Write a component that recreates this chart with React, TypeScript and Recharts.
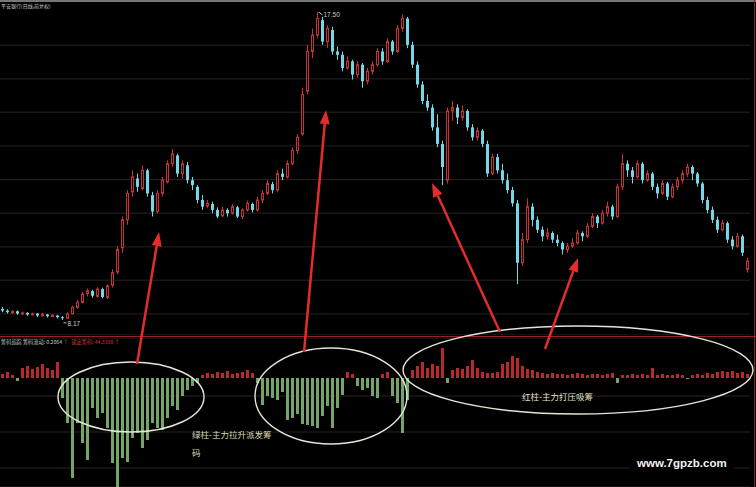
import { ComposedChart, Bar, XAxis, YAxis, CartesianGrid, Cell, ReferenceDot } from "recharts";

// 日K线：[开, 高, 低, 收]
const ohlc: [number, number, number, number][] = [
  [8.50, 8.56, 8.40, 8.45], [8.45, 8.49, 8.36, 8.40], [8.39, 8.47, 8.35, 8.42], [8.43, 8.45, 8.32, 8.36],
  [8.35, 8.42, 8.31, 8.38], [8.38, 8.40, 8.29, 8.33], [8.32, 8.39, 8.30, 8.35], [8.36, 8.37, 8.26, 8.30],
  [8.29, 8.38, 8.27, 8.34], [8.33, 8.35, 8.24, 8.28], [8.27, 8.34, 8.25, 8.31], [8.30, 8.32, 8.21, 8.25],
  [8.25, 8.28, 8.17, 8.22], [8.22, 8.40, 8.20, 8.35], [8.36, 8.60, 8.33, 8.55], [8.55, 8.78, 8.50, 8.70],
  [8.70, 9.02, 8.66, 8.95], [8.96, 9.12, 8.88, 9.05], [9.04, 9.08, 8.84, 8.90], [8.88, 9.16, 8.85, 9.10],
  [9.10, 9.14, 8.82, 8.86], [8.85, 9.25, 8.80, 9.20], [9.22, 9.70, 9.15, 9.60], [9.62, 10.40, 9.55, 10.30],
  [10.35, 11.30, 10.20, 11.20], [11.20, 12.10, 11.05, 12.00], [12.05, 12.70, 11.90, 12.50], [12.45, 12.60, 12.05, 12.20],
  [12.15, 12.85, 12.10, 12.70], [12.70, 12.75, 11.90, 12.00], [11.95, 12.05, 11.30, 11.45], [11.45, 12.10, 11.40, 12.00],
  [12.00, 12.50, 11.90, 12.40], [12.35, 13.00, 12.30, 12.90], [12.90, 13.35, 12.80, 13.20], [13.15, 13.20, 12.50, 12.60],
  [12.60, 13.00, 12.45, 12.90], [12.85, 12.95, 12.30, 12.40], [12.40, 12.50, 12.10, 12.25], [12.20, 12.25, 11.70, 11.80],
  [11.80, 11.95, 11.50, 11.60], [11.62, 11.80, 11.55, 11.70], [11.68, 11.75, 11.40, 11.50], [11.50, 11.58, 11.25, 11.30],
  [11.32, 11.60, 11.28, 11.50], [11.50, 11.55, 11.30, 11.40], [11.40, 11.68, 11.35, 11.60], [11.58, 11.62, 11.25, 11.30],
  [11.30, 11.55, 11.22, 11.50], [11.50, 11.78, 11.45, 11.70], [11.68, 11.72, 11.42, 11.50], [11.50, 11.90, 11.45, 11.80],
  [11.80, 12.10, 11.70, 12.00], [12.00, 12.40, 11.95, 12.30], [12.28, 12.35, 12.00, 12.10], [12.10, 12.70, 12.05, 12.60],
  [12.60, 12.75, 12.40, 12.50], [12.50, 13.00, 12.45, 12.90], [12.90, 13.40, 12.85, 13.30], [13.30, 13.80, 13.20, 13.70],
  [13.80, 15.20, 13.75, 15.00], [15.10, 16.50, 15.00, 16.30], [16.30, 17.00, 16.10, 16.80], [16.80, 17.50, 16.70, 17.30],
  [17.25, 17.35, 16.50, 16.60], [16.60, 17.10, 16.40, 17.00], [16.95, 17.05, 16.20, 16.30], [16.30, 16.45, 16.05, 16.20],
  [16.20, 16.30, 15.70, 15.80], [15.80, 16.15, 15.75, 16.00], [16.00, 16.05, 15.45, 15.60], [15.60, 16.00, 15.50, 15.90],
  [15.90, 15.95, 15.20, 15.40], [15.40, 15.80, 15.30, 15.70], [15.70, 16.00, 15.60, 15.90], [15.90, 16.40, 15.85, 16.30],
  [16.30, 16.40, 15.90, 16.00], [16.00, 16.70, 15.95, 16.60], [16.60, 16.65, 16.20, 16.30], [16.30, 17.10, 16.25, 17.00],
  [17.00, 17.42, 16.90, 17.30], [17.30, 17.35, 16.40, 16.50], [16.50, 16.60, 15.80, 15.90], [15.90, 16.00, 15.20, 15.30],
  [15.30, 15.40, 14.70, 14.80], [14.80, 15.00, 14.50, 14.60], [14.60, 14.70, 13.90, 14.00], [14.00, 14.40, 13.40, 13.50],
  [13.50, 13.60, 12.25, 12.80], [12.40, 14.60, 12.30, 14.50], [14.50, 14.80, 14.20, 14.60], [14.60, 14.70, 14.10, 14.30],
  [14.30, 14.65, 14.20, 14.50], [14.50, 14.55, 13.90, 14.00], [14.00, 14.10, 13.60, 13.70], [13.70, 14.00, 13.60, 13.90],
  [13.90, 13.95, 13.40, 13.50], [13.50, 13.60, 12.50, 12.60], [12.60, 13.20, 12.55, 13.10], [13.10, 13.20, 12.60, 12.70],
  [12.70, 12.90, 12.30, 12.40], [12.40, 12.60, 12.00, 12.10], [12.10, 12.20, 11.60, 11.70], [11.70, 11.80, 9.25, 9.90],
  [9.90, 10.80, 9.80, 10.60], [10.60, 11.85, 10.50, 11.60], [11.60, 11.70, 11.00, 11.20], [11.20, 11.30, 10.80, 10.90],
  [10.90, 11.00, 10.55, 10.70], [10.70, 10.95, 10.60, 10.80], [10.80, 10.85, 10.50, 10.60], [10.60, 10.75, 10.40, 10.50],
  [10.50, 10.55, 10.15, 10.30], [10.30, 10.50, 10.20, 10.40], [10.40, 10.65, 10.35, 10.50], [10.50, 10.90, 10.45, 10.80],
  [10.80, 10.85, 10.55, 10.70], [10.70, 11.10, 10.65, 11.00], [11.00, 11.40, 10.95, 11.30], [11.30, 11.35, 10.95, 11.10],
  [11.10, 11.50, 11.05, 11.40], [11.40, 11.75, 11.30, 11.60], [11.60, 11.65, 11.20, 11.30], [11.30, 12.30, 11.25, 12.20],
  [12.20, 13.20, 12.10, 12.90], [12.90, 13.00, 12.50, 12.70], [12.70, 12.80, 12.30, 12.50], [12.50, 13.00, 12.45, 12.90],
  [12.90, 12.95, 12.30, 12.40], [12.40, 12.70, 12.35, 12.60], [12.60, 12.65, 12.10, 12.20], [12.20, 12.30, 11.85, 12.00],
  [12.00, 12.40, 11.95, 12.30], [12.30, 12.35, 11.80, 11.90], [11.90, 12.30, 11.85, 12.20], [12.20, 12.50, 12.10, 12.40],
  [12.40, 12.70, 12.30, 12.60], [12.60, 12.90, 12.50, 12.80], [12.80, 12.85, 12.40, 12.60], [12.60, 12.65, 12.20, 12.30],
  [12.30, 12.35, 11.70, 11.80], [11.80, 11.90, 11.40, 11.50], [11.50, 11.60, 11.10, 11.20], [11.20, 11.30, 10.80, 10.90],
  [10.90, 11.20, 10.85, 11.10], [11.10, 11.15, 10.50, 10.60], [10.60, 10.70, 10.30, 10.40], [10.40, 10.80, 10.35, 10.70],
  [10.70, 10.75, 10.10, 10.20], [9.70, 10.05, 9.60, 9.95],
];

// 筹码流动柱：红柱为正，绿柱为负
const flow = [
  0.04, 0.06, 0.03, -0.03, 0.10, 0.12, 0.09, 0.11, 0.14, 0.10, 0.08, 0.16,
  -0.20, -0.45, -1.00, -0.45, -0.65, -0.82, -0.30, -0.40, -0.35, -0.50, -0.85, -1.09,
  -0.80, -0.84, -0.60, -0.55, -0.70, -0.62, -0.45, -0.50, -0.52, -0.40, -0.28, -0.32,
  -0.18, -0.12, -0.08, -0.05,
  0.03, 0.05, 0.04, 0.06, 0.05, 0.07, 0.04, 0.05, 0.06, 0.08, 0.05,
  -0.05, -0.27, -0.18, -0.20, -0.22, -0.14, -0.42, -0.40, -0.36, -0.46, -0.47, -0.48,
  -0.50, -0.38, -0.28, -0.50, -0.30, -0.17, 0.06, 0.04, -0.08, -0.12, -0.10, -0.18,
  -0.20, 0.04, 0.06, -0.18, -0.25, -0.55, -0.22, 0.08,
  0.12, 0.16, 0.10, 0.14, 0.12, 0.30, -0.05, 0.08, 0.10, 0.09, 0.12, 0.18,
  0.10, 0.06, 0.05, 0.05, 0.06, 0.14, 0.16, 0.22, 0.20, 0.12, 0.09, 0.08,
  0.06, 0.05, 0.04, 0.05, 0.04, 0.04, 0.03, 0.04, 0.05, 0.04, 0.03, 0.04,
  0.04, 0.03, 0.04, 0.05, -0.05, 0.03,
  0.03, 0.04, 0.03, 0.04, 0.03, 0.10, 0.03, 0.04, 0.03, 0.03, 0.04, 0.03, -0.01,
  0.03, 0.04, 0.03, 0.05, 0.04, 0.06, 0.07, 0.06, 0.07, 0.05, 0.06, 0.04,
];

// 背景网格线所在价位
const priceTicks = [17.0, 16.49, 15.98, 15.47, 14.96, 14.46, 13.95, 13.44, 12.93, 12.42, 11.91, 11.4, 10.89, 10.38, 9.87, 9.37, 8.86, 8.35];
const flowTicks = [-0.9, -0.72, -0.54, -0.36, -0.18];

const UP = "#c83232";
const DOWN = "#74d6e6";
const BAR_RED = "#b82a2a";
const BAR_GREEN = "#74a468";
const GRID = "#2a2222";
const CJK = "'Noto Sans CJK SC', sans-serif";

const data = ohlc.map(([open, high, low, close], i) => ({
  i,
  open,
  high,
  low,
  close,
  range: [low, high],
  flow: flow[i],
}));

let hiIdx = 0;
let loIdx = 0;
data.forEach((d, i) => {
  if (d.high > data[hiIdx].high) hiIdx = i;
  if (d.low < data[loIdx].low) loIdx = i;
});

function Candle(props: any) {
  const { x, y, width, height, payload } = props;
  const { open, high, low, close } = payload;
  const top = Math.min(y, y + height);
  const span = Math.abs(height);
  const k = high === low ? 0 : span / (high - low);
  const py = (v: number) => top + (high - v) * k;
  const cx = Math.floor(x + width / 2) + 0.5;
  const bTop = py(Math.max(open, close));
  const bh = Math.max(py(Math.min(open, close)) - bTop, 1);
  if (close >= open) {
    return (
      <g>
        <line x1={cx} x2={cx} y1={top} y2={bTop} stroke={UP} />
        <line x1={cx} x2={cx} y1={bTop + bh} y2={top + span} stroke={UP} />
        <rect x={cx - 1} y={bTop} width={2} height={bh} fill="#000" stroke={UP} />
      </g>
    );
  }
  return (
    <g>
      <line x1={cx} x2={cx} y1={top} y2={top + span} stroke={DOWN} />
      <rect x={cx - 1.5} y={bTop} width={3} height={bh} fill={DOWN} />
    </g>
  );
}

const HighMark = (p: any) => (
  <g>
    <line x1={p.cx + 1} y1={p.cy} x2={p.cx + 5} y2={p.cy + 3} stroke="#bbb" />
    <text x={p.cx + 6} y={p.cy + 5} fill="#ccc" fontSize={6.5} fontFamily="Arial, sans-serif">
      {data[hiIdx].high.toFixed(2)}
    </text>
  </g>
);

const LowMark = (p: any) => (
  <g>
    <line x1={p.cx + 1} y1={p.cy + 3} x2={p.cx + 4} y2={p.cy + 3} stroke="#bbb" />
    <text x={p.cx + 5} y={p.cy + 6} fill="#ccc" fontSize={6.5} fontFamily="Arial, sans-serif">
      {data[loIdx].low.toFixed(2)}
    </text>
  </g>
);

// 标注箭头（画布像素坐标）
const arrows = [
  { x1: 137, y1: 364, x2: 159, y2: 232 },
  { x1: 304, y1: 352, x2: 326, y2: 110 },
  { x1: 500, y1: 332, x2: 432, y2: 183 },
  { x1: 545, y1: 349, x2: 578, y2: 258 },
];

function Arrow({ x1, y1, x2, y2 }: { x1: number; y1: number; x2: number; y2: number }) {
  const len = Math.hypot(x2 - x1, y2 - y1);
  const ux = (x2 - x1) / len;
  const uy = (y2 - y1) / len;
  const bx = x2 - ux * 14;
  const by = y2 - uy * 14;
  const pts = `${x2},${y2} ${bx - uy * 5},${by + ux * 5} ${bx + uy * 5},${by - ux * 5}`;
  return (
    <g>
      <line x1={x1} y1={y1} x2={bx} y2={by} stroke="#e42c2c" strokeWidth={2.5} />
      <polygon points={pts} fill="#e42c2c" />
    </g>
  );
}

export default function App() {
  return (
    <div style={{ position: "absolute", left: 0, top: 0, width: 756, height: 487, background: "#000", overflow: "hidden" }}>
      <div style={{ position: "absolute", left: 0, top: 0 }}>
        <ComposedChart width={756} height={335} data={data} margin={{ top: 0, right: 6, bottom: 0, left: 0 }}>
          <CartesianGrid vertical={false} stroke={GRID} />
          <XAxis dataKey="i" hide />
          <YAxis hide domain={[7.71, 17.86]} ticks={priceTicks} />
          <Bar dataKey="range" shape={Candle} isAnimationActive={false} />
          <ReferenceDot x={hiIdx} y={data[hiIdx].high} r={0} shape={HighMark} />
          <ReferenceDot x={loIdx} y={data[loIdx].low} r={0} shape={LowMark} />
        </ComposedChart>
      </div>
      <div style={{ position: "absolute", left: 0, top: 338 }}>
        <ComposedChart width={756} height={149} data={data} margin={{ top: 0, right: 6, bottom: 0, left: 0 }}>
          <CartesianGrid vertical={false} stroke={GRID} />
          <XAxis dataKey="i" hide />
          <YAxis hide domain={[-1.09, 0.4]} ticks={flowTicks} />
          <Bar dataKey="flow" barSize={3} isAnimationActive={false}>
            {data.map((d) => (
              <Cell key={d.i} fill={d.flow >= 0 ? BAR_RED : BAR_GREEN} />
            ))}
          </Bar>
        </ComposedChart>
      </div>
      <svg width={756} height={487} style={{ position: "absolute", left: 0, top: 0, pointerEvents: "none" }}>
        <rect x={0} y={0} width={756} height={2} fill="#777" />
        <line x1={754.5} y1={0} x2={754.5} y2={487} stroke="#8a1e1e" />
        <line x1={0} y1={336.5} x2={756} y2={336.5} stroke="#9a2222" />
        <text x={1} y={8} fill="#c8c8c8" fontSize={5} fontFamily={CJK}>平安银行(日线,前复权)</text>
        <text x={1} y={344} fontSize={5.2} fontFamily={CJK}>
          <tspan fill="#c8c8c8">筹码追踪 筹码流动: 0.2064</tspan>
          <tspan fill="#d04040" dx={1}>↑</tspan>
          <tspan fill="#d03838" dx={3}>锁定筹码: 44.3388</tspan>
          <tspan fill="#d04040" dx={1}>↑</tspan>
        </text>
        <g fill="none" stroke="#e6e4d6" strokeWidth={1.4}>
          <ellipse cx={131} cy={397} rx={73} ry={35} />
          <ellipse cx={331} cy={396} rx={76} ry={48} />
          <ellipse cx={578} cy={370} rx={175} ry={44} />
        </g>
        {arrows.map((a, i) => (
          <Arrow key={i} {...a} />
        ))}
        <text x={192} y={438} fill="#d8dcb4" fontSize={8.5} fontFamily={CJK}>绿柱-主力拉升派发筹</text>
        <text x={192} y={456} fill="#d8dcb4" fontSize={8.5} fontFamily={CJK}>码</text>
        <text x={522} y={400} fill="#e2e2cc" fontSize={8.5} fontFamily={CJK}>红柱-主力打压吸筹</text>
        <rect x={630} y={452} width={104} height={20} fill="#000" />
        <text x={637} y={467} fill="#f2f2f2" fontSize={11.5} fontWeight="bold" fontFamily="'Liberation Sans', Arial, sans-serif">
          www.7gpzb.com
        </text>
      </svg>
    </div>
  );
}
